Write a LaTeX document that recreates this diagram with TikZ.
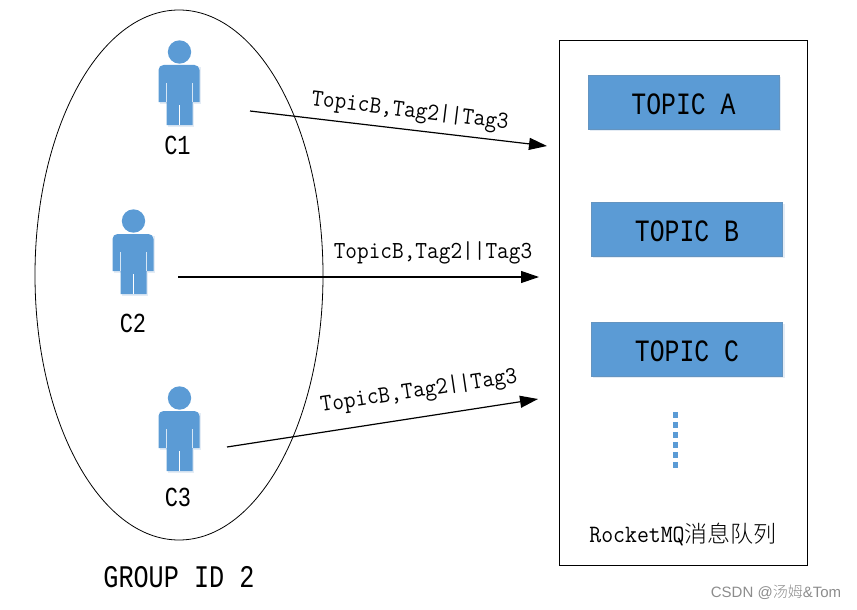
\documentclass[tikz,border=0pt]{standalone}
\usepackage{fontspec}
\usetikzlibrary{arrows.meta,shapes.geometric}
\newfontfamily\labelfont[FakeStretch=0.8]{Liberation Mono}
\setmonofont[FakeStretch=0.925]{Latin Modern Mono}
\newfontfamily\cjkfont{Noto Sans CJK SC Light}
\newfontfamily\wmfont{Liberation Sans}
\definecolor{officeblue}{HTML}{5B9BD5}
\definecolor{softshade}{HTML}{E4ECF5}
\tikzset{
  x=1pt,y=-1pt,
  person/.pic={
    \fill[softshade] (-20,15) rectangle (21,52);
    \fill[softshade] (-12,52) rectangle (14,75);
    \fill[officeblue] (0,0) circle (11.7);
    \fill[officeblue] (-21,50) -- (-21,18) [rounded corners=5pt] -- (-21,13) -- (20,13) [sharp corners] -- (20,50) -- (13,50) -- (13,73) -- (-13,73) -- (-13,50) -- cycle;
    \draw[white,line width=.7pt] (0,53) -- (0,73);
    \draw[white!75!officeblue,line width=.6pt] (-13,31) -- (-13,50) (13,31) -- (13,50);
  },
  topicbox/.style={fill=officeblue,draw=officeblue!75!gray,line width=.5pt,minimum width=191pt,minimum height=54pt,inner sep=0pt,text=black,text height=25.5pt,text depth=0pt,font=\labelfont\fontsize{31}{31}\selectfont},
  personlabel/.style={font=\labelfont\fontsize{27.5}{27.5}\selectfont,text=black,inner sep=0pt},
  flowlabel/.style={font=\ttfamily\fontsize{24.5}{24.5}\selectfont,text=black,inner sep=0pt},
  flow/.style={-{Triangle[length=18pt,width=12pt]},line width=1.2pt,black},
}
\begin{document}
\begin{tikzpicture}
\useasboundingbox (0,0) rectangle (857,610);
\node[draw=black,line width=.8pt,minimum width=248pt,minimum height=525pt,inner sep=0pt] (queue) at (683,302.5) {};
\node[draw=black,line width=.8pt,ellipse,minimum width=288pt,minimum height=530pt,inner sep=0pt] (group) at (179,275) {};
\pic at (179.5,52) {person};
\pic at (133.5,221) {person};
\pic at (179.5,398) {person};
\node[personlabel] (c1) at (177.5,145) {C1};
\node[personlabel] (c2) at (133,323) {C2};
\node[personlabel] (c3) at (178,497) {C3};
\node[font=\labelfont\fontsize{31.5}{31.5}\selectfont,inner sep=0pt] (gid) at (179,577) {GROUP ID 2};
\fill[softshade] (589.5,77) rectangle (780.5,131);
\fill[softshade] (593,204) rectangle (784.5,258);
\fill[softshade] (593,324) rectangle (784.5,378);
\node[topicbox] (ta) at (683.5,102) {TOPIC A};
\node[topicbox] (tb) at (687,229) {TOPIC B};
\node[topicbox] (tc) at (687,349) {TOPIC C};
\foreach \yy in {415,425,435,445,455,465} \fill[officeblue] (672.5,\yy-2.7) rectangle (678,\yy+2.7);
\node[inner sep=0pt,font=\ttfamily\fontsize{25}{25}\selectfont] (rmq) at (683,535) {RocketMQ\cjkfont\fontsize{23}{23}\selectfont 消息队列};
\coordinate (s1) at (250,111); \coordinate (e1) at (547,146);
\coordinate (s2) at (178,277); \coordinate (e2) at (539,277);
\coordinate (s3) at (227,447); \coordinate (e3) at (538,399);
\draw[flow] (s1) -- (e1);
\draw[flow] (s2) -- (e2);
\draw[flow] (s3) -- (e3);
\node[flowlabel,rotate=-7] (l1) at (410,111.5) {TopicB,Tag2||Tag3};
\node[flowlabel] (l2) at (433,253) {TopicB,Tag2||Tag3};
\node[flowlabel,rotate=8.5] (l3) at (419,391.5) {TopicB,Tag2||Tag3};
\node[text=black!45,inner sep=0pt,font=\wmfont\fontsize{15}{15}\selectfont] (wm) at (776,592) {CSDN @\cjkfont\fontsize{15}{15}\selectfont 汤姆\wmfont\fontsize{15}{15}\selectfont\&Tom};
\end{tikzpicture}
\end{document}
